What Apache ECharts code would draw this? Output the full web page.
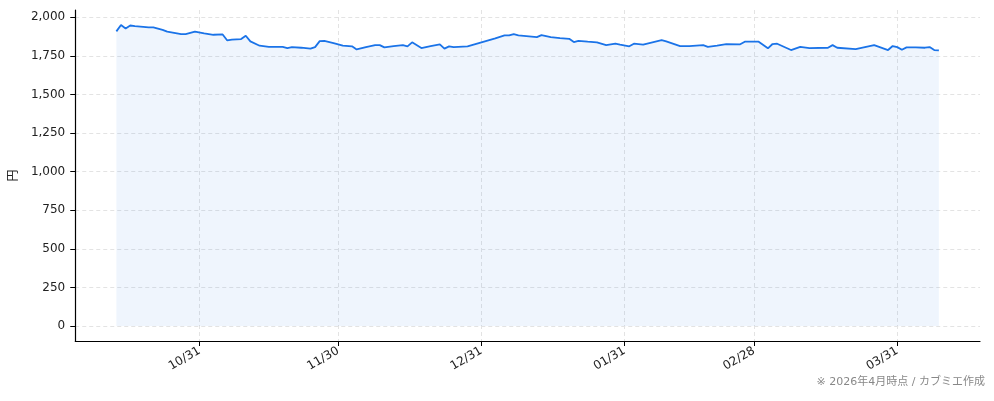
<!DOCTYPE html>
<html>
<head>
<meta charset="utf-8">
<script src="https://cdn.jsdelivr.net/npm/echarts@6/dist/echarts.min.js"></script>
<style>
html,body{margin:0;padding:0;background:#fff;}
#chartmain{width:994px;height:401px;}
</style>
</head>
<body>
<div id="chartmain"></div>
<script>
// 株価の推移（円）
var dates = [
	'2025-10-13','2025-10-14','2025-10-15','2025-10-16','2025-10-17','2025-10-20','2025-10-21','2025-10-23','2025-10-24','2025-10-27',
	'2025-10-28','2025-10-30','2025-11-01','2025-11-03','2025-11-05','2025-11-06','2025-11-07','2025-11-09','2025-11-10','2025-11-11',
	'2025-11-13','2025-11-15','2025-11-18','2025-11-19','2025-11-20','2025-11-22','2025-11-24','2025-11-25','2025-11-26','2025-11-27',
	'2025-11-29','2025-12-01','2025-12-03','2025-12-04','2025-12-06','2025-12-08','2025-12-09','2025-12-10','2025-12-12','2025-12-14',
	'2025-12-15','2025-12-16','2025-12-18','2025-12-20','2025-12-22','2025-12-23','2025-12-24','2025-12-25','2025-12-28','2025-12-31',
	'2026-01-03','2026-01-05','2026-01-06','2026-01-07','2026-01-08','2026-01-12','2026-01-13','2026-01-15','2026-01-17','2026-01-19',
	'2026-01-20','2026-01-21','2026-01-23','2026-01-25','2026-01-27','2026-01-29','2026-01-30','2026-02-01','2026-02-02','2026-02-04',
	'2026-02-06','2026-02-08','2026-02-09','2026-02-12','2026-02-14','2026-02-17','2026-02-18','2026-02-20','2026-02-22','2026-02-25',
	'2026-02-26','2026-03-01','2026-03-03','2026-03-04','2026-03-05','2026-03-08','2026-03-10','2026-03-12','2026-03-16','2026-03-17',
	'2026-03-18','2026-03-22','2026-03-24','2026-03-26','2026-03-29','2026-03-30','2026-03-31','2026-04-01','2026-04-02','2026-04-04',
	'2026-04-06','2026-04-07','2026-04-08','2026-04-09'
];
var prices = [
	1909,1950,1928,1947,1943,1935,1935,1919,1907,1891,
	1891,1907,1896,1887,1889,1850,1855,1859,1881,1844,
	1816,1809,1809,1800,1807,1803,1797,1807,1846,1848,
	1833,1816,1812,1792,1807,1820,1820,1805,1814,1820,
	1812,1838,1801,1814,1825,1797,1812,1807,1812,1838,
	1863,1883,1883,1891,1883,1872,1885,1872,1865,1861,
	1840,1848,1842,1838,1820,1829,1823,1812,1829,1823,
	1838,1853,1844,1814,1814,1820,1809,1816,1827,1825,
	1842,1842,1799,1827,1829,1788,1809,1800,1803,1820,
	1803,1794,1807,1820,1788,1814,1807,1790,1805,1805,
	1803,1807,1788,1786
];
var xTickDates = ['2025-10-31','2025-11-30','2025-12-31','2026-01-31','2026-02-28','2026-03-31'];
var yTicks = [0,250,500,750,1000,1250,1500,1750,2000];

function ts(s){
	return new Date(s + 'T00:00:00').getTime();
}

var seriesData = [];
for (var i in dates) {
	seriesData.push([ts(dates[i]), prices[i]]);
}
var xTicks = xTickDates.map(ts);
// 両端に5%の余白
var xFirst = ts(dates[0]), xLast = ts(dates[dates.length-1]);
var xPad = (xLast - xFirst) * 0.05;

var gridLine = {show: true, lineStyle: {color: '#e3e3e3', type: [4, 3], width: 1}};
var fontFamily = '"DejaVu Sans", "Noto Sans CJK JP", sans-serif';

var myChart = echarts.init(document.getElementById('chartmain'));
var option = {
	backgroundColor: '#fff',
	animation: false,
	grid: {left: 75, right: 14, top: 10, bottom: 60, containLabel: false},
	xAxis: {
		type: 'value',
		min: xFirst - xPad,
		max: xLast + xPad,
		axisLine: {show: true, onZero: false, lineStyle: {color: '#000', width: 1.2}},
		axisTick: {show: true, length: 5, lineStyle: {color: '#000'}, customValues: xTicks},
		axisLabel: {
			customValues: xTicks,
			rotate: 30,
			margin: 9,
			color: '#222',
			fontSize: 12,
			fontFamily: fontFamily,
			formatter: function(v){
				var d = new Date(v);
				var m = d.getMonth() + 1, dd = d.getDate();
				return (m < 10 ? '0' + m : m) + '/' + (dd < 10 ? '0' + dd : dd);
			}
		},
		splitLine: gridLine
	},
	yAxis: {
		type: 'value',
		min: -97.5,
		max: 2047.5,
		name: '円',
		nameLocation: 'middle',
		nameGap: 44,
		nameRotate: 90,
		nameTextStyle: {color: '#222', fontSize: 12, fontFamily: fontFamily},
		axisLine: {show: true, lineStyle: {color: '#000', width: 1.2}},
		axisTick: {show: true, length: 5, lineStyle: {color: '#000'}, customValues: yTicks},
		axisLabel: {
			customValues: yTicks,
			margin: 10,
			color: '#222',
			fontSize: 12,
			fontFamily: fontFamily,
			formatter: function(v){
				return v.toLocaleString('en-US');
			}
		},
		splitLine: gridLine
	},
	graphic: [{
		type: 'text',
		right: 9,
		top: 377,
		style: {
			text: '※ 2026年4月時点 / カブミエ作成',
			fill: '#888',
			fontSize: 11,
			fontFamily: fontFamily
		}
	}],
	series: [{
		name: '株価',
		type: 'line',
		data: seriesData,
		showSymbol: false,
		lineStyle: {color: '#1a73e8', width: 1.8},
		areaStyle: {color: 'rgba(26,115,232,0.1)'}
	}]
};
myChart.setOption(option);
</script>
</body>
</html>
